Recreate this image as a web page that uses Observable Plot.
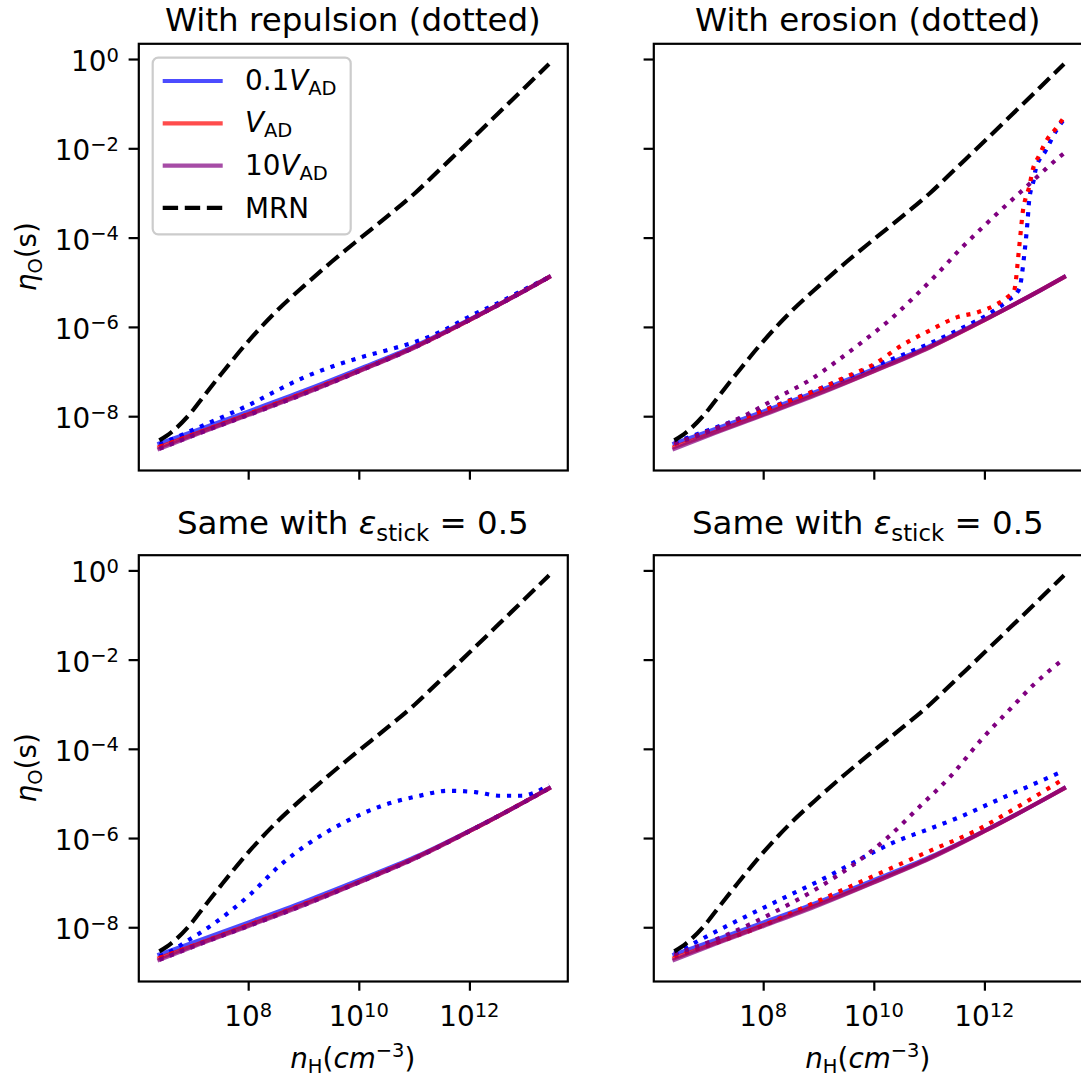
<!DOCTYPE html>
<html><head><meta charset="utf-8">
<script src="https://cdn.jsdelivr.net/npm/d3@7"></script>
<script src="https://cdn.jsdelivr.net/npm/@observablehq/plot@0.6"></script>
<style>
body{margin:0;background:#fff;}
#fig{position:relative;width:1081px;height:1083px;overflow:hidden;background:#fff;font-family:"DejaVu Sans";}
#fig svg{position:absolute;left:0;top:0;max-width:none;overflow:visible;background:transparent;}
</style></head><body><div id="fig"></div>
<script>
// ---- data (log10 units) ----
const xTicks = [1e8, 1e10, 1e12];
const xTickExp = ["8", "10", "12"];
const yTicks = [1e-8, 1e-6, 1e-4, 1e-2, 1];
const yTickExp = ["\u22128", "\u22126", "\u22124", "\u22122", "0"];

const baseLogN = [6.385, 7, 8, 9, 10, 11, 12, 13, 13.43];
const solidBlueLogEta = [-8.6, -8.33, -7.88, -7.42, -6.93, -6.42, -5.82, -5.17, -4.87];
const solidRedLogEta = [-8.68, -8.40, -7.94, -7.47, -6.97, -6.44, -5.83, -5.17, -4.875];
const solidPurpleLogEta = [-8.72, -8.42, -7.96, -7.49, -6.98, -6.45, -5.83, -5.17, -4.875];

const mrnLogN = [6.385, 6.6, 6.9, 7.2, 7.5, 8.0, 8.5, 9.0, 9.5, 10.0, 10.5, 11.0, 11.5, 12.0, 12.5, 13.0, 13.43];
const mrnLogEta = [-8.53, -8.35, -7.99, -7.52, -7.05, -6.30, -5.64, -5.07, -4.53, -4.02, -3.52, -3.0, -2.41, -1.82, -1.22, -0.62, -0.1];

const repBlueLogN = [6.385, 6.6, 7, 7.5, 8, 8.5, 9, 9.5, 10, 10.5, 11, 11.5, 12, 12.5, 13, 13.43];
const repBlueLogEta = [-8.62, -8.51, -8.29, -8.02, -7.74, -7.42, -7.12, -6.88, -6.68, -6.51, -6.33, -6.08, -5.75, -5.46, -5.14, -4.875];

const eroBlueLogN = [6.385, 7, 8, 9, 10, 11, 11.56, 12.17, 12.41, 12.62, 12.71, 12.77, 12.80, 12.88, 12.92, 13.10, 13.31, 13.41];
const eroBlueLogEta = [-8.58, -8.30, -7.85, -7.38, -6.87, -6.36, -6.03, -5.62, -5.40, -5.14, -4.39, -3.64, -3.16, -2.71, -2.45, -2.04, -1.55, -1.37];
const eroRedLogN = [6.385, 7, 8, 9, 9.5, 10, 10.5, 11, 11.5, 11.87, 12.23, 12.41, 12.53, 12.56, 12.59, 12.62, 12.65, 12.68, 12.74, 12.80, 12.86, 12.98, 13.13, 13.28, 13.41];
const eroRedLogEta = [-8.62, -8.33, -7.86, -7.38, -7.10, -6.82, -6.40, -6.07, -5.77, -5.66, -5.47, -5.32, -5.17, -4.95, -4.58, -4.20, -3.83, -3.46, -3.08, -2.86, -2.49, -2.15, -1.78, -1.55, -1.33];
const eroPurpleLogN = [6.385, 7.05, 7.71, 8.31, 8.82, 9.34, 9.82, 10.3, 10.72, 11.14, 11.56, 11.99, 12.44, 12.74, 13.04, 13.34, 13.43];
const eroPurpleLogEta = [-8.6, -8.31, -7.94, -7.53, -7.19, -6.74, -6.29, -5.81, -5.32, -4.80, -4.24, -3.72, -3.20, -2.86, -2.52, -2.19, -2.1];

const stRepBlueLogN = [6.385, 6.48, 6.87, 7.39, 8.03, 8.55, 9.06, 9.71, 10.42, 11.06, 11.61, 12.10, 12.55, 12.93, 13.43];
const stRepBlueLogEta = [-8.64, -8.60, -8.31, -7.89, -7.25, -6.62, -6.13, -5.65, -5.26, -5.05, -4.93, -4.96, -5.04, -5.04, -4.80];

const stEroBlueLogN = [6.385, 7.35, 8.25, 9.16, 9.76, 10.36, 10.96, 11.56, 12.17, 12.77, 13.43];
const stEroBlueLogEta = [-8.58, -7.95, -7.40, -6.85, -6.45, -6.08, -5.80, -5.51, -5.17, -4.84, -4.48];
const stEroRedLogN = [6.385, 7.95, 9.16, 10.06, 10.96, 11.87, 12.47, 13.43];
const stEroRedLogEta = [-8.65, -7.97, -7.30, -6.80, -6.30, -5.80, -5.38, -4.66];
const stEroPurpleLogN = [6.385, 7.35, 8.19, 8.98, 9.64, 10.24, 10.84, 11.39, 11.93, 12.47, 12.89, 13.43];
const stEroPurpleLogEta = [-8.60, -8.15, -7.65, -7.11, -6.57, -5.98, -5.26, -4.59, -3.79, -3.08, -2.54, -1.97];

const legendLabels = [["0.1", "V", "AD"], ["", "V", "AD"], ["10", "V", "AD"], ["MRN", "", ""]];

// ---- helpers ----
const pts = (logN, logEta) => logN.map((v, i) => ({n: 10 ** v, eta: 10 ** logEta[i]}));
const W = 1090, H = 1083;
const LW = 4.17;
const DOT = "4.17,6.88", DASH = "15.4,6.67";
const X_DOMAIN = [10 ** 6.013, 10 ** 13.77];
const Y_DOMAIN = [10 ** -9.205, 10 ** 0.352];

const base = {
  blue: pts(baseLogN, solidBlueLogEta),
  red: pts(baseLogN, solidRedLogEta),
  purple: pts(baseLogN, solidPurpleLogEta)
};
const mrn = pts(mrnLogN, mrnLogEta);

const panels = [
  {fx0: 138.3, fx1: 567.3, fy0: 43.3, fy1: 470, showX: false, showY: true, legend: true,
   title: "With repulsion (dotted)", titleY: 30.5,
   dotted: {blue: pts(repBlueLogN, repBlueLogEta), red: base.red, purple: base.purple}},
  {fx0: 653.3, fx1: 1082.3, fy0: 43.3, fy1: 470, showX: false, showY: false,
   title: "With erosion (dotted)", titleY: 30.5,
   dotted: {blue: pts(eroBlueLogN, eroBlueLogEta), red: pts(eroRedLogN, eroRedLogEta), purple: pts(eroPurpleLogN, eroPurpleLogEta)}},
  {fx0: 138.3, fx1: 567.3, fy0: 554.7, fy1: 981, showX: true, showY: true,
   title: "stick", titleY: 534,
   dotted: {blue: pts(stRepBlueLogN, stRepBlueLogEta), red: base.red, purple: base.purple}},
  {fx0: 653.3, fx1: 1082.3, fy0: 554.7, fy1: 981, showX: true, showY: false,
   title: "stick", titleY: 534,
   dotted: {blue: pts(stEroBlueLogN, stEroBlueLogEta), red: pts(stEroRedLogN, stEroRedLogEta), purple: pts(stEroPurpleLogN, stEroPurpleLogEta)}}
];

const fig = document.getElementById("fig");

for (const p of panels) {
  const marks = [];
  for (const c of ["blue", "red", "purple"]) {
    marks.push(Plot.line(base[c], {x: "n", y: "eta", stroke: c, strokeOpacity: 0.7, strokeWidth: LW, strokeLinecap: "square", strokeLinejoin: "round", curve: "monotone-x"}));
    marks.push(Plot.line(p.dotted[c], {x: "n", y: "eta", stroke: c, strokeWidth: LW, strokeDasharray: DOT, strokeLinecap: "butt", strokeLinejoin: "round", curve: "monotone-x"}));
  }
  marks.push(Plot.line(mrn, {x: "n", y: "eta", stroke: "black", strokeWidth: LW, strokeDasharray: DASH, strokeLinecap: "butt", curve: "monotone-x"}));
  marks.push(Plot.frame({stroke: "black", strokeWidth: 2.2}));
  marks.push(Plot.axisX({ticks: xTicks, tickSize: 9.7, tickPadding: 9.7, tickFormat: () => "", stroke: "black", strokeWidth: 2.2, label: null}));
  marks.push(Plot.axisY({ticks: yTicks, tickSize: 9.7, tickPadding: 9.7, tickFormat: () => "", stroke: "black", strokeWidth: 2.2, label: null}));

  const plot = Plot.plot({
    width: W, height: H,
    marginLeft: p.fx0, marginRight: W - p.fx1, marginTop: p.fy0, marginBottom: H - p.fy1,
    x: {type: "log", domain: X_DOMAIN, label: null},
    y: {type: "log", domain: Y_DOMAIN, label: null},
    style: {fontFamily: "DejaVu Sans", fontSize: "27.8px", color: "black", background: "transparent"},
    marks
  });
  fig.appendChild(plot);
  const svg = d3.select(plot);
  const sx = plot.scale("x"), sy = plot.scale("y");
  const cx = (p.fx0 + p.fx1) / 2;

  // tick labels
  if (p.showX) {
    xTicks.forEach((v, i) => {
      const t = svg.append("text").attr("x", sx.apply(v)).attr("y", p.fy1 + 45)
        .attr("text-anchor", "middle").attr("font-size", 27.8).attr("fill", "black");
      t.append("tspan").text("10");
      t.append("tspan").attr("dy", -9.5).attr("font-size", 19.5).text(xTickExp[i]);
    });
    const xl = svg.append("text").attr("x", cx).attr("y", 1068).attr("text-anchor", "middle")
      .attr("font-size", 27.8).attr("fill", "black");
    xl.append("tspan").attr("font-style", "italic").text("n");
    xl.append("tspan").attr("font-size", 19.5).attr("dy", 5).text("H");
    xl.append("tspan").attr("dy", -5).text("(");
    xl.append("tspan").attr("font-style", "italic").text("cm");
    xl.append("tspan").attr("font-size", 19.5).attr("dy", -11).text("\u22123");
    xl.append("tspan").attr("dy", 11).text(")");
  }
  if (p.showY) {
    yTicks.forEach((v, i) => {
      const t = svg.append("text").attr("x", p.fx0 - 19.4).attr("y", sy.apply(v) + 12)
        .attr("text-anchor", "end").attr("font-size", 27.8).attr("fill", "black");
      t.append("tspan").text("10");
      t.append("tspan").attr("dy", -9.5).attr("font-size", 19.5).text(yTickExp[i]);
    });
    const cy = (p.fy0 + p.fy1) / 2;
    const yl = svg.append("text").attr("transform", `translate(36,${cy}) rotate(-90)`)
      .attr("text-anchor", "middle").attr("font-size", 27.8).attr("fill", "black");
    yl.append("tspan").attr("font-style", "italic").text("\u03b7");
    yl.append("tspan").attr("font-size", 19.5).attr("dy", 5.5).text("O");
    yl.append("tspan").attr("dy", -5.5).text("(s)");
  }

  // title
  const tt = svg.append("text").attr("x", cx).attr("y", p.titleY).attr("text-anchor", "middle")
    .attr("font-size", 32.5).attr("fill", "black");
  if (p.title === "stick") {
    tt.append("tspan").text("Same with ");
    tt.append("tspan").attr("font-style", "italic").text("\u03b5");
    tt.append("tspan").attr("font-size", 22.75).attr("dy", 7).text("stick");
    tt.append("tspan").attr("dy", -7).text(" = 0.5");
  } else {
    tt.text(p.title);
  }

  // legend
  if (p.legend) {
    const lg = svg.append("g");
    lg.append("rect").attr("x", 152.7).attr("y", 57.7).attr("width", 198).attr("height", 176.6)
      .attr("rx", 5.5).attr("fill", "white").attr("fill-opacity", 0.8)
      .attr("stroke", "#cccccc").attr("stroke-width", 2.2);
    const colors = ["blue", "red", "purple", "black"];
    legendLabels.forEach((lab, i) => {
      const y = 81 + i * 42.3;
      lg.append("line").attr("x1", 162.7).attr("x2", 222.7).attr("y1", y).attr("y2", y)
        .attr("stroke", colors[i]).attr("stroke-width", LW)
        .attr("stroke-opacity", i < 3 ? 0.7 : 1)
        .attr("stroke-dasharray", i < 3 ? null : DASH)
        .attr("stroke-linecap", "butt");
      const t = lg.append("text").attr("x", 245).attr("y", y + (i < 3 ? 9 : 10))
        .attr("text-anchor", "start").attr("font-size", 27.8).attr("fill", "black");
      if (lab[0]) t.append("tspan").text(lab[0]);
      if (lab[1]) {
        t.append("tspan").attr("font-style", "italic").text(lab[1]);
        t.append("tspan").attr("font-size", 19.5).attr("dy", 5).text(lab[2]);
      }
    });
  }
}
</script></body></html>
